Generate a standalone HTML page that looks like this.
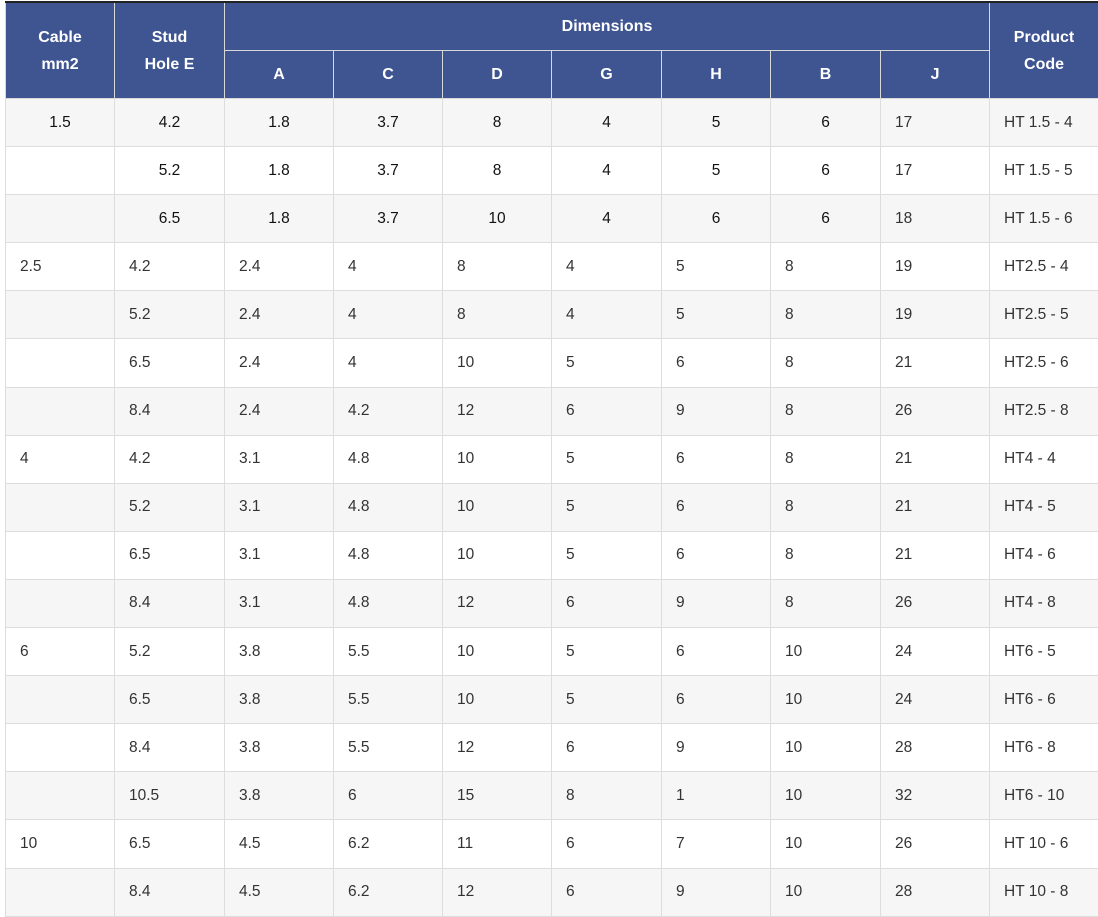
<!DOCTYPE html>
<html><head><style>
body{margin:0;background:#fff;width:1098px;height:917px;overflow:hidden;font-family:"Liberation Sans",Arial,sans-serif;}
table{position:absolute;left:5px;top:1px;width:1093px;border-collapse:collapse;table-layout:fixed;border-top:2px solid #222;}
th{background:#3f5592;color:#fff;font-weight:bold;font-size:16px;border:1px solid #d8d8d8;height:47px;padding:0;line-height:27px;}
td{border:1px solid #ddd;height:47.1px;padding:0 0 0 14px;font-size:15.5px;color:#333;}
tr.c td{text-align:center;padding:0;color:#111}
tr.c td.l{text-align:left;padding-left:14px;color:#333}
tbody tr:nth-child(odd) td{background:#f6f6f6}
</style></head><body>
<table>
<colgroup><col style="width:109px"><col style="width:110px"><col style="width:109px"><col style="width:109px"><col style="width:109px"><col style="width:110px"><col style="width:109px"><col style="width:110px"><col style="width:109px"><col style="width:109px"></colgroup>
<thead>
<tr><th rowspan="2">Cable<br>mm2</th><th rowspan="2">Stud<br>Hole E</th><th colspan="7">Dimensions</th><th rowspan="2">Product<br>Code</th></tr>
<tr><th>A</th><th>C</th><th>D</th><th>G</th><th>H</th><th>B</th><th>J</th></tr>
</thead>
<tbody>
<tr class="c"><td>1.5</td><td>4.2</td><td>1.8</td><td>3.7</td><td>8</td><td>4</td><td>5</td><td>6</td><td class="l">17</td><td class="l">HT 1.5 - 4</td></tr>
<tr class="c"><td></td><td>5.2</td><td>1.8</td><td>3.7</td><td>8</td><td>4</td><td>5</td><td>6</td><td class="l">17</td><td class="l">HT 1.5 - 5</td></tr>
<tr class="c"><td></td><td>6.5</td><td>1.8</td><td>3.7</td><td>10</td><td>4</td><td>6</td><td>6</td><td class="l">18</td><td class="l">HT 1.5 - 6</td></tr>
<tr><td>2.5</td><td>4.2</td><td>2.4</td><td>4</td><td>8</td><td>4</td><td>5</td><td>8</td><td>19</td><td>HT2.5 - 4</td></tr>
<tr><td></td><td>5.2</td><td>2.4</td><td>4</td><td>8</td><td>4</td><td>5</td><td>8</td><td>19</td><td>HT2.5 - 5</td></tr>
<tr><td></td><td>6.5</td><td>2.4</td><td>4</td><td>10</td><td>5</td><td>6</td><td>8</td><td>21</td><td>HT2.5 - 6</td></tr>
<tr><td></td><td>8.4</td><td>2.4</td><td>4.2</td><td>12</td><td>6</td><td>9</td><td>8</td><td>26</td><td>HT2.5 - 8</td></tr>
<tr><td>4</td><td>4.2</td><td>3.1</td><td>4.8</td><td>10</td><td>5</td><td>6</td><td>8</td><td>21</td><td>HT4 - 4</td></tr>
<tr><td></td><td>5.2</td><td>3.1</td><td>4.8</td><td>10</td><td>5</td><td>6</td><td>8</td><td>21</td><td>HT4 - 5</td></tr>
<tr><td></td><td>6.5</td><td>3.1</td><td>4.8</td><td>10</td><td>5</td><td>6</td><td>8</td><td>21</td><td>HT4 - 6</td></tr>
<tr><td></td><td>8.4</td><td>3.1</td><td>4.8</td><td>12</td><td>6</td><td>9</td><td>8</td><td>26</td><td>HT4 - 8</td></tr>
<tr><td>6</td><td>5.2</td><td>3.8</td><td>5.5</td><td>10</td><td>5</td><td>6</td><td>10</td><td>24</td><td>HT6 - 5</td></tr>
<tr><td></td><td>6.5</td><td>3.8</td><td>5.5</td><td>10</td><td>5</td><td>6</td><td>10</td><td>24</td><td>HT6 - 6</td></tr>
<tr><td></td><td>8.4</td><td>3.8</td><td>5.5</td><td>12</td><td>6</td><td>9</td><td>10</td><td>28</td><td>HT6 - 8</td></tr>
<tr><td></td><td>10.5</td><td>3.8</td><td>6</td><td>15</td><td>8</td><td>1</td><td>10</td><td>32</td><td>HT6 - 10</td></tr>
<tr><td>10</td><td>6.5</td><td>4.5</td><td>6.2</td><td>11</td><td>6</td><td>7</td><td>10</td><td>26</td><td>HT 10 - 6</td></tr>
<tr><td></td><td>8.4</td><td>4.5</td><td>6.2</td><td>12</td><td>6</td><td>9</td><td>10</td><td>28</td><td>HT 10 - 8</td></tr>
</tbody>
</table>
</body></html>
